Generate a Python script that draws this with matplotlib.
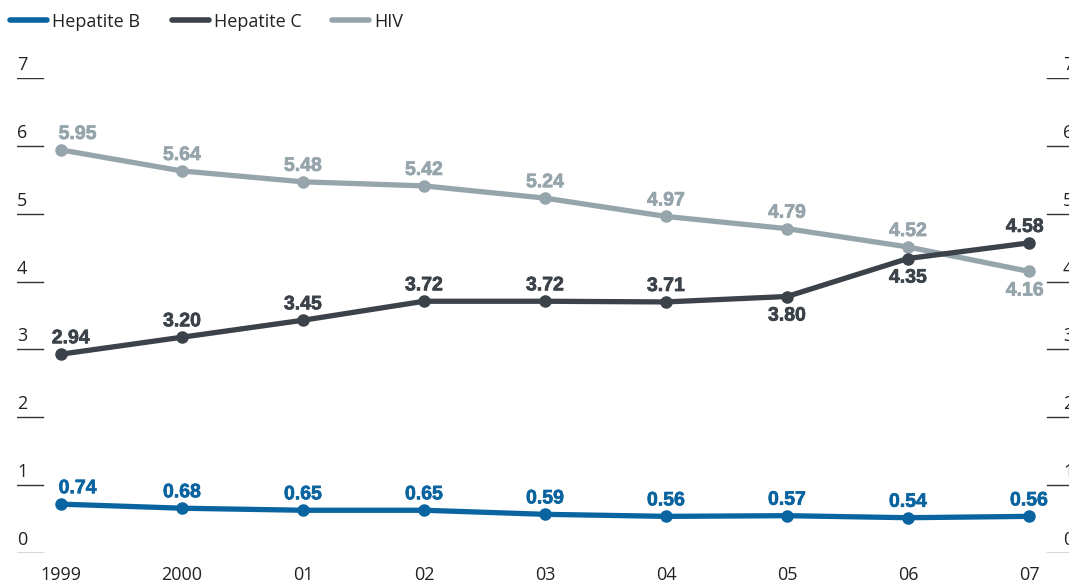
import matplotlib.pyplot as plt
import matplotlib.patheffects as pe
import numpy as np

# values
years = ["1999", "2000", "01", "02", "03", "04", "05", "06", "07"]
hep_b = [0.74, 0.68, 0.65, 0.65, 0.59, 0.56, 0.57, 0.54, 0.56]
hep_c = [2.94, 3.20, 3.45, 3.72, 3.72, 3.71, 3.80, 4.35, 4.58]
hiv = [5.95, 5.64, 5.48, 5.42, 5.24, 4.97, 4.79, 4.52, 4.16]
# points as drawn on the chart (labels and marker heights differ slightly)
hep_b_pos = [0.72, 0.66, 0.63, 0.63, 0.57, 0.54, 0.55, 0.52, 0.54]
hep_c_pos = [2.93, 3.18, 3.43, 3.71, 3.71, 3.70, 3.78, 4.34, 4.57]
hiv_pos = [5.94, 5.63, 5.47, 5.41, 5.23, 4.96, 4.78, 4.51, 4.15]
y_ticks = [0, 1, 2, 3, 4, 5, 6, 7]

c_b = "#0a64a0"
c_c = "#3b4249"
c_hiv = "#96a4ac"

W, H = 1069, 581
fig = plt.figure(figsize=(W / 100, H / 100), dpi=100)
ax_l, ax_r = 17, 1069
y0_px, y7_px = 553, 78
ax = fig.add_axes([ax_l / W, (H - y0_px) / H, (ax_r - ax_l) / W, (y0_px - y7_px) / H])

x = np.arange(len(years))
ax.set_xlim((ax_l - 61) / 121, (ax_r - 61) / 121)
ax.set_ylim(0, 7)
for s in ax.spines.values():
    s.set_visible(False)

tick_font = "Open Sans"
lab_font = "Liberation Sans"

# short gridline stubs at both edges
for v in y_ticks:
    ax.axhline(v, xmin=0, xmax=26 / 1052, color="#333333", lw=1)
    ax.axhline(v, xmin=(1047 - ax_l) / 1052, xmax=1, color="#333333", lw=1)
    ax.text(0, v + 0.06, str(v), transform=ax.get_yaxis_transform(), ha="left", va="bottom",
            fontsize=13, family=tick_font, color="#222222")
    # right-hand labels run off the edge, as in the original
    ax.text((1063 - ax_l) / 1052, v + 0.06, str(v), transform=ax.get_yaxis_transform(), ha="left",
            va="bottom", fontsize=13, family=tick_font, color="#222222")

ax.set_yticks([])
ax.set_xticks(x)
ax.set_xticklabels(years, fontsize=13, family=tick_font, color="#222222")
ax.tick_params(axis="x", length=0, pad=9)

series = [
    (hiv, hiv_pos, c_hiv, [1, 1, 1, 1, 1, 1, 1, 1, -1]),
    (hep_c, hep_c_pos, c_c, [1, 1, 1, 1, 1, 1, -1, -1, 1]),
    (hep_b, hep_b_pos, c_b, [1] * 9),
]
for vals, pos, col, sides in series:
    ax.plot(x, pos, color=col, lw=3.8, marker="o", ms=8, clip_on=False, solid_capstyle="round")
    for i, (v, p) in enumerate(zip(vals, pos)):
        dx = 0
        if i == 0:
            dx = 12 if col != c_c else 7
        if i == len(vals) - 1 and col != c_b:
            dx = -3
        sd = sides[i]
        t = ax.annotate(f"{v:.2f}", (x[i], p), xytext=(dx, 5 if sd > 0 else -8),
                        textcoords="offset points", ha="center",
                        va="bottom" if sd > 0 else "top", fontsize=14,
                        fontweight="bold", family=lab_font, color=col)
        t.set_path_effects([pe.withStroke(linewidth=0.5, foreground=col)])

# legend
for lx, name, col in [(10, "Hepatite B", c_b), (172, "Hepatite C", c_c), (332, "HIV", c_hiv)]:
    fig.add_artist(plt.Line2D([lx / W, (lx + 37) / W], [1 - 20 / H, 1 - 20 / H], color=col,
                              lw=4, solid_capstyle="round"))
    fig.text((lx + 42) / W, 1 - 22 / H, name, ha="left", va="center", fontsize=13,
             family=tick_font, color="#222222")

fig.savefig("out.png", dpi=100)
